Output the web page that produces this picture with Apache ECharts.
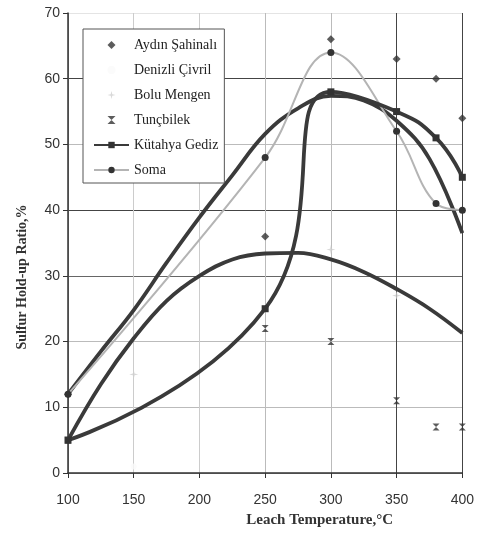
<!DOCTYPE html>
<html>
<head>
<meta charset="utf-8">
<script src="https://cdn.jsdelivr.net/npm/echarts@6/dist/echarts.min.js"></script>
<style>
  html, body { margin: 0; padding: 0; background: #fff; }
  #main { width: 477px; height: 538px; }
</style>
</head>
<body>
<div id="main"></div>
<script>
// measured points (temperature, %)
const aydin = [[100, 12], [250, 36], [300, 66], [350, 63], [380, 60], [400, 54]]
const denizli = [[150, 1]]
const bolu = [[150, 15], [300, 34], [350, 27]]
const tuncbilek = [[100, 5], [250, 22], [300, 20], [350, 11], [380, 7], [400, 7]]
const kutahya = [[100, 5], [250, 25], [300, 58], [350, 55], [380, 51], [400, 45]]
const soma = [[100, 12], [250, 48], [300, 64], [350, 52], [380, 41], [400, 40]]

// trend curves
const trendX = [100, 125, 150, 175, 200, 225, 250, 275, 300, 325, 350, 375, 400]
const trendUpper = [12, 18.5, 24.8, 32, 38.9, 45.3, 51.6, 55.5, 57.4, 56.7, 53.6, 47.8, 36.5]
const trendLower = [5, 13.5, 20.5, 26.2, 30, 32.5, 33.4, 33.5, 32.5, 30.6, 28, 25, 21.3]

const xTicks = [100, 150, 200, 250, 300, 350, 400]
const yTicks = [0, 10, 20, 30, 40, 50, 60, 70]

const legendNames = ['Aydın Şahinalı', 'Denizli Çivril', 'Bolu Mengen', 'Tunçbilek', 'Kütahya Gediz', 'Soma']

const dark = '#3a3a3a'
const pair = (xs, ys) => xs.map((x, i) => [x, ys[i]])

const option = {
  animation: false,
  backgroundColor: '#fff',
  grid: { left: 68, right: 14, top: 13, bottom: 65 },
  legend: {
    data: legendNames,
    orient: 'vertical',
    left: 83,
    top: 29,
    padding: [9, 6, 6, 10],
    itemWidth: 35,
    itemHeight: 8,
    itemGap: 11,
    backgroundColor: '#fff',
    borderColor: '#555',
    borderWidth: 1,
    textStyle: { fontFamily: 'Liberation Serif', fontSize: 14, color: '#222' }
  },
  xAxis: {
    type: 'value',
    min: xTicks[0],
    max: xTicks[xTicks.length - 1],
    interval: 50,
    name: 'Leach Temperature,°C',
    nameLocation: 'middle',
    nameGap: 40,
    nameTextStyle: {
      fontFamily: 'Liberation Serif', fontWeight: 'bold', fontSize: 15, color: '#333',
      padding: [0, 0, 0, 109]
    },
    axisLine: { show: true, lineStyle: { color: '#333', width: 1.5 } },
    axisTick: { show: true, length: 5, lineStyle: { color: '#333' } },
    axisLabel: { margin: 20, fontFamily: 'Liberation Sans', fontSize: 14, color: '#333' },
    splitLine: {
      show: true,
      lineStyle: { color: ['#999', '#ccc', '#ccc', '#bbb', '#bbb', '#444', '#444'], width: 1 }
    }
  },
  yAxis: {
    type: 'value',
    min: yTicks[0],
    max: yTicks[yTicks.length - 1],
    interval: 10,
    name: 'Sulfur Hold-up Ratio,%',
    nameLocation: 'middle',
    nameGap: 39,
    nameTextStyle: {
      fontFamily: 'Liberation Serif', fontWeight: 'bold', fontSize: 14, color: '#333',
      padding: [0, 68, 0, 0]
    },
    axisLine: { show: true, lineStyle: { color: '#333', width: 1.5 } },
    axisTick: { show: true, length: 5, lineStyle: { color: '#333' } },
    axisLabel: { margin: 8, fontFamily: 'Liberation Sans', fontSize: 14, color: '#333' },
    splitLine: {
      show: true,
      lineStyle: { color: ['#999', '#bbb', '#bbb', '#666', '#444', '#bbb', '#444', '#e4e4e4'], width: 1 }
    }
  },
  series: [
    {
      name: 'trend upper', type: 'line', smooth: 0.4, symbol: 'none',
      lineStyle: { color: dark, width: 3.8 }, z: 3,
      data: pair(trendX, trendUpper)
    },
    {
      name: 'trend lower', type: 'line', smooth: 0.4, symbol: 'none',
      lineStyle: { color: dark, width: 3.8 }, z: 3,
      data: pair(trendX, trendLower)
    },
    {
      name: 'Soma', type: 'line', smooth: 0.4,
      symbol: 'circle', symbolSize: 7,
      itemStyle: { color: '#333' },
      lineStyle: { color: '#b4b4b4', width: 2 }, z: 4,
      data: soma
    },
    {
      name: 'Kütahya Gediz', type: 'line', smooth: 0.5,
      symbol: 'rect', symbolSize: 7,
      itemStyle: { color: '#333' },
      lineStyle: { color: dark, width: 3.8 }, z: 5,
      data: kutahya
    },
    {
      name: 'Aydın Şahinalı', type: 'scatter',
      symbol: 'path://M5,0L10,5L5,10L0,5Z', symbolSize: 8,
      itemStyle: { color: '#333' }, z: 6,
      data: aydin
    },
    {
      name: 'Denizli Çivril', type: 'scatter',
      symbol: 'circle', symbolSize: 6,
      itemStyle: { color: '#fafafa' }, z: 6,
      data: denizli
    },
    {
      name: 'Bolu Mengen', type: 'scatter',
      symbol: 'path://M5,0L6,4L10,5L6,6L5,10L4,6L0,5L4,4Z', symbolSize: 9,
      itemStyle: { color: '#d0d0d0' }, z: 6,
      data: bolu
    },
    {
      name: 'Tunçbilek', type: 'scatter',
      symbol: 'path://M0,0L10,0L0,10L10,10Z', symbolSize: 7,
      itemStyle: { color: '#333' }, z: 6,
      data: tuncbilek
    }
  ]
}

const chart = echarts.init(document.getElementById('main'))
chart.setOption(option)
</script>
</body>
</html>
